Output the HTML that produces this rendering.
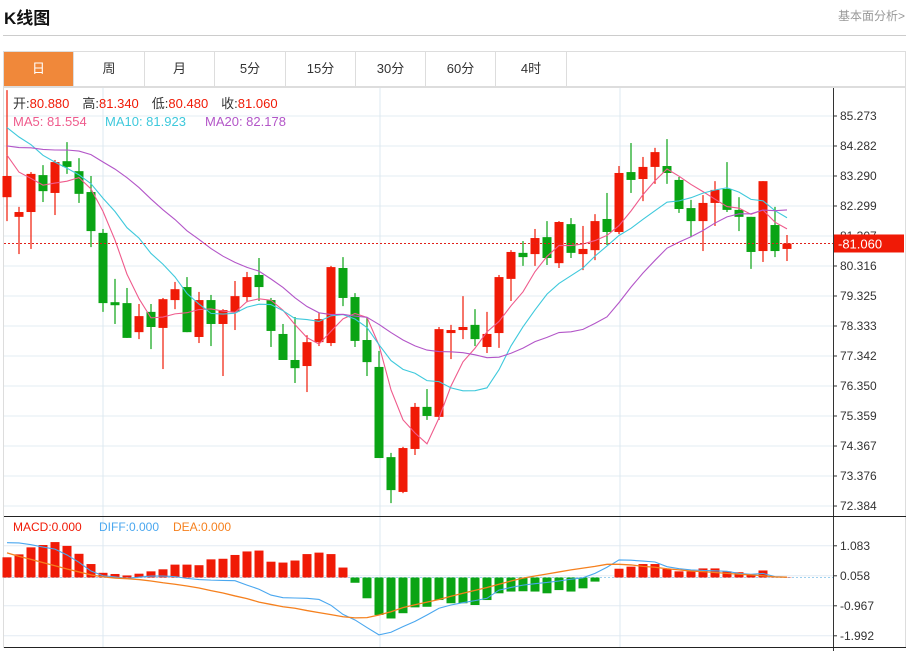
<!DOCTYPE html>
<html><head><meta charset="utf-8">
<style>
html,body{margin:0;padding:0;background:#fff;width:907px;height:651px;overflow:hidden;font-family:"Liberation Sans","Noto Sans CJK SC",sans-serif;}
#title{position:absolute;left:4px;top:4px;font-size:17px;font-weight:bold;color:#111;}
#more{position:absolute;right:2px;top:7px;font-size:12px;color:#999;}
#hline{position:absolute;left:3px;top:35px;width:903px;height:1px;background:#ccc;}
#tabs{position:absolute;left:3px;top:51px;width:903px;height:36px;border:1px solid #ddd;box-sizing:border-box;}
.tab{position:absolute;top:0;height:34px;line-height:34px;text-align:center;font-size:13px;color:#333;border-right:1px solid #ddd;box-sizing:border-box;}
.tab.on{background:#f0883a;color:#fff;}
svg{position:absolute;left:0;top:0;}
</style></head><body>
<div id="title">K线图</div>
<div id="more">基本面分析&gt;</div>
<div id="hline"></div>
<div id="tabs">
<div class="tab on" style="left:0;width:70px">日</div>
<div class="tab" style="left:70px;width:71px">周</div>
<div class="tab" style="left:141px;width:70px">月</div>
<div class="tab" style="left:211px;width:71px">5分</div>
<div class="tab" style="left:282px;width:70px">15分</div>
<div class="tab" style="left:352px;width:70px">30分</div>
<div class="tab" style="left:422px;width:70px">60分</div>
<div class="tab" style="left:492px;width:71px">4时</div>
</div>
<svg id="chart" width="907" height="651" xmlns="http://www.w3.org/2000/svg"></svg>
<script>
const opens=[82.59,81.94,82.10,83.32,82.73,83.78,83.45,82.76,81.41,79.12,79.09,78.13,78.80,78.27,79.19,79.62,77.97,79.19,78.40,78.80,79.29,80.02,79.19,78.07,77.21,77.01,77.80,77.77,80.25,79.29,77.87,76.98,74.00,72.85,74.27,75.66,75.33,78.10,78.20,78.37,77.64,78.10,79.89,80.75,80.71,81.27,80.41,81.70,80.71,80.84,81.87,81.44,83.42,83.19,83.59,83.62,83.16,82.23,81.80,82.40,82.86,82.17,81.94,80.81,81.67,80.88];
const highs=[86.13,82.27,83.42,83.65,83.82,84.41,83.88,83.29,81.54,79.89,79.59,79.06,79.06,79.26,79.79,79.95,79.46,79.36,78.89,79.82,80.12,80.58,79.26,78.40,78.63,78.03,78.76,80.32,80.61,79.42,78.63,77.51,74.14,74.34,75.79,76.25,78.30,78.37,79.32,78.89,78.80,80.02,80.84,81.14,81.54,81.80,81.80,81.90,81.64,82.03,82.73,83.62,84.38,83.92,84.22,84.51,83.26,82.50,82.66,83.12,83.75,82.59,81.94,83.12,82.27,81.34];
const lows=[81.80,80.71,80.88,82.43,82.00,83.36,82.40,80.94,78.80,78.40,77.94,77.90,77.57,76.91,78.89,78.13,77.77,77.67,76.68,78.20,79.12,79.16,77.64,77.21,76.45,76.15,77.67,77.67,78.99,77.64,76.68,73.97,72.48,72.81,74.07,75.23,75.23,77.24,77.90,77.67,77.44,77.61,79.16,80.32,80.32,80.35,80.25,80.58,80.18,80.51,81.01,81.37,82.73,82.46,83.03,83.03,82.07,81.27,80.81,81.64,82.10,81.47,80.22,80.45,80.61,80.48];
const closes=[83.29,82.10,83.36,82.79,83.75,83.59,82.70,81.47,79.09,79.02,77.94,78.66,78.30,79.22,79.55,78.13,79.19,78.40,78.86,79.32,79.95,79.62,78.17,77.21,76.94,77.80,78.56,80.28,79.26,77.84,77.14,73.97,72.91,74.30,75.66,75.36,78.23,78.20,78.30,77.90,78.07,79.95,80.78,80.61,81.24,80.58,81.77,80.75,80.88,81.80,81.44,83.39,83.16,83.59,84.08,83.39,82.20,81.80,82.40,82.83,82.17,81.94,80.78,83.12,80.81,81.06];
const priorCloses=[83.2,83.5,83.9,84.1,83.6,83.4,83.8,84.0,83.7,83.6,85.2,85.9,86.3,86.0,85.6,84.9,84.4,83.9,83.4];
const priceTicks=[85.273,84.282,83.290,82.299,81.307,80.316,79.325,78.333,77.342,76.350,75.359,74.367,73.376,72.384];
const macdHist=[0.69,0.79,1.03,1.11,1.21,1.08,0.81,0.46,0.16,0.12,0.07,0.13,0.21,0.28,0.44,0.44,0.42,0.62,0.64,0.77,0.89,0.92,0.54,0.51,0.58,0.80,0.85,0.80,0.34,-0.18,-0.71,-1.28,-1.40,-1.22,-1.02,-1.00,-0.77,-0.88,-0.88,-0.94,-0.77,-0.54,-0.48,-0.47,-0.48,-0.54,-0.43,-0.48,-0.37,-0.14,0,0.30,0.37,0.46,0.46,0.29,0.21,0.21,0.31,0.31,0.21,0.18,0.09,0.24,0.03,0.01];
const diffLine=[1.19,1.18,1.12,1.04,0.97,0.77,0.52,0.22,0.06,0.02,-0.03,0.01,0.05,0.05,0.03,-0.03,-0.07,-0.09,-0.10,-0.11,-0.26,-0.40,-0.60,-0.69,-0.70,-0.71,-0.75,-0.95,-1.26,-1.45,-1.71,-1.96,-1.87,-1.68,-1.50,-1.28,-1.05,-0.94,-0.86,-0.79,-0.71,-0.43,-0.34,-0.26,-0.21,-0.17,-0.12,-0.06,-0.01,0.14,0.35,0.60,0.59,0.56,0.53,0.37,0.30,0.26,0.24,0.23,0.21,0.14,0.11,0.14,0.03,0.01];
const deaLine=[0.84,0.72,0.62,0.51,0.40,0.29,0.19,0.09,0.02,-0.02,-0.04,-0.07,-0.12,-0.18,-0.23,-0.29,-0.36,-0.45,-0.53,-0.63,-0.72,-0.84,-0.92,-1.00,-1.05,-1.13,-1.20,-1.27,-1.34,-1.38,-1.37,-1.28,-1.17,-1.03,-0.93,-0.84,-0.75,-0.64,-0.54,-0.44,-0.34,-0.23,-0.12,-0.02,0.05,0.12,0.19,0.26,0.32,0.38,0.45,0.45,0.43,0.38,0.35,0.30,0.26,0.22,0.20,0.17,0.14,0.11,0.09,0.06,0.02,0.01];
const macdTicks=[1.083,0.058,-0.967,-1.992];

const NS="http://www.w3.org/2000/svg";
const svg=document.getElementById('chart');
function mk(tag,attrs,parent){const e=document.createElementNS(NS,tag);for(const k in attrs)e.setAttribute(k,attrs[k]);(parent||svg).appendChild(e);return e;}
const yP=p=>116+(85.273-p)/0.9914*30;
const yM=v=>577.5-(v-0.0)/1.025*30;
const xC=i=>7+i*12;
const RED="#f01a06",GREEN="#0aa414";

// frame & grids
let g=mk('g',{});


priceTicks.forEach(t=>{mk('line',{x1:4,x2:833,y1:yP(t),y2:yP(t),stroke:"#e3ecf3","stroke-width":1},g);});
macdTicks.forEach(t=>{mk('line',{x1:4,x2:833,y1:yM(t),y2:yM(t),stroke:"#e3ecf3","stroke-width":1},g);});
[103,380,620].forEach(x=>{mk('line',{x1:x,x2:x,y1:88,y2:647,stroke:"#dde8f0","stroke-width":1},g);});
mk('rect',{x:3.5,y:87.5,width:902,height:560,fill:"none",stroke:"#ddd"});
let ax=mk('line',{x1:833.5,x2:833.5,y1:88,y2:651,stroke:"#333"});


mk('line',{x1:4,x2:906,y1:516.5,y2:516.5,stroke:"#222"});
mk('line',{x1:4,x2:906,y1:647.5,y2:647.5,stroke:"#222"});

// tick labels
priceTicks.forEach(t=>{
 const y=yP(t);
 mk('line',{x1:833,x2:837,y1:y,y2:y,stroke:"#333"});
 const tx=mk('text',{x:840,y:y+4,"font-size":12,fill:"#333"});
 
 
 tx.textContent=t.toFixed(3);
});
macdTicks.forEach(t=>{
 const y=yM(t);
 mk('line',{x1:833,x2:837,y1:y,y2:y,stroke:"#333"});
 const tx=mk('text',{x:840,y:y+4,"font-size":12,fill:"#333"});
 
 
 tx.textContent=t.toFixed(3);
});

// candles
closes.forEach((c,i)=>{
 const o=opens[i],up=c>=o,col=up?RED:GREEN,x=xC(i);
 const cg=mk('g',{});
 
 
 mk('line',{x1:x,x2:x,y1:yP(highs[i]),y2:yP(lows[i]),stroke:col,"stroke-width":1.2},cg);
 const t=yP(Math.max(o,c)),b=yP(Math.min(o,c));
 mk('rect',{x:x-4.5,y:t,width:9,height:Math.max(1.5,b-t),fill:col},cg);
});

// MAs
const all=priorCloses.concat(closes),off=priorCloses.length;
function ma(n){return closes.map((_,i)=>{let s=0;for(let k=0;k<n;k++)s+=all[off+i-k];return s/n;});}
[[5,"#ef5b8c","ma5-line"],[10,"#3fc9dc","ma10-line"],[20,"#b356c8","ma20-line"]].forEach(([n,col,name])=>{
 const v=ma(n);
 const pl=mk('polyline',{points:v.map((p,i)=>xC(i)+","+yP(p)).join(" "),fill:"none",stroke:col,"stroke-width":1.1});
 
 
});

// last price line
const last=closes[closes.length-1];
mk('line',{x1:4,x2:833,y1:yP(last),y2:yP(last),stroke:"#e0201a","stroke-dasharray":"2,2"});
const lb=mk('rect',{x:834,y:yP(last)-9,width:70,height:18,fill:"#f01a06"});


const lt=mk('text',{x:838,y:yP(last)+5,"font-size":13,fill:"#fff"});


lt.textContent="-"+last.toFixed(3);

// MACD
mk('line',{x1:4,x2:833,y1:yM(0),y2:yM(0),stroke:"#9fd0ee","stroke-dasharray":"2,2"});
macdHist.forEach((v,i)=>{
 if(v===0)return;
 const y0=yM(0),y1=yM(v);
 const r=mk('rect',{x:xC(i)-4.5,y:Math.min(y0,y1),width:9,height:Math.abs(y1-y0),fill:v>0?RED:GREEN});
 
 
});
const dl=mk('polyline',{points:diffLine.map((v,i)=>xC(i)+","+yM(v)).join(" "),fill:"none",stroke:"#4aa7ef","stroke-width":1.1});


const el=mk('polyline',{points:deaLine.map((v,i)=>xC(i)+","+yM(v)).join(" "),fill:"none",stroke:"#f5801e","stroke-width":1.3});


</script>
<svg width="907" height="651" style="pointer-events:none" xmlns="http://www.w3.org/2000/svg">
<g font-size="13">
<text x="13" y="108" fill="#333">开:<tspan fill="#f01a06">80.880</tspan>　高:<tspan fill="#f01a06">81.340</tspan>　低:<tspan fill="#f01a06">80.480</tspan>　收:<tspan fill="#f01a06">81.060</tspan></text>
</g>
<g font-size="13">
<text x="13" y="126" fill="#ef5b8c">MA5: 81.554</text>
<text x="105" y="126" fill="#3fc9dc">MA10: 81.923</text>
<text x="205" y="126" fill="#b356c8">MA20: 82.178</text>
</g>
<g font-size="12">
<text x="13" y="531" fill="#f01a06">MACD:0.000</text>
<text x="99" y="531" fill="#4aa7ef">DIFF:0.000</text>
<text x="173" y="531" fill="#f5801e">DEA:0.000</text>
</g>
</svg>
</body></html>
